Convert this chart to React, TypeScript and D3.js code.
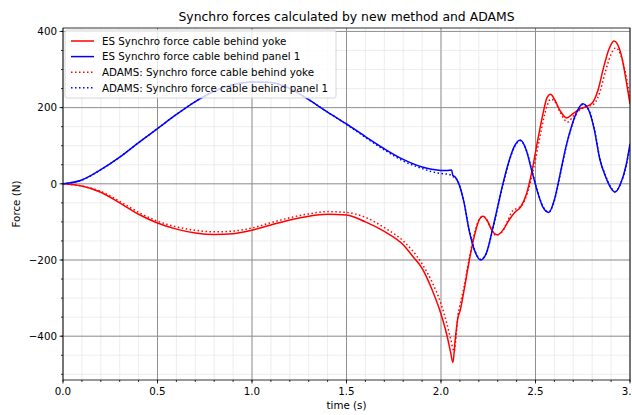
import * as d3 from "d3";

// time (s), force (N)
const esYoke: [number, number][] = [
  [0, 0], [0.1, -6], [0.2, -22], [0.3, -50], [0.4, -80], [0.5, -103], [0.6, -119],
  [0.7, -129], [0.8, -133], [0.9, -131], [1.0, -122], [1.1, -108], [1.2, -95],
  [1.3, -85], [1.4, -80], [1.5, -82], [1.6, -100], [1.7, -125], [1.8, -160],
  [1.85, -190], [1.9, -222], [1.95, -275], [2.0, -342], [2.03, -395], [2.05, -440],
  [2.063, -469], [2.075, -410], [2.09, -350], [2.1, -335], [2.12, -285], [2.15, -200],
  [2.175, -140], [2.2, -97], [2.222, -85], [2.245, -97], [2.27, -123], [2.298, -134],
  [2.33, -120], [2.36, -95], [2.39, -75], [2.42, -62], [2.45, -30], [2.48, 30],
  [2.51, 110], [2.54, 185], [2.56, 225], [2.58, 235], [2.6, 222], [2.63, 192],
  [2.665, 173], [2.7, 185], [2.74, 198], [2.77, 203], [2.8, 212], [2.83, 245],
  [2.86, 305], [2.89, 355], [2.915, 375], [2.94, 360], [2.96, 325], [2.98, 270], [3.0, 210],
];

const esPanel: [number, number][] = [
  [0, 0], [0.1, 10], [0.2, 37], [0.3, 70], [0.4, 108], [0.5, 145], [0.6, 182],
  [0.7, 216], [0.8, 243], [0.9, 260], [1.0, 267], [1.1, 266], [1.2, 250], [1.3, 221],
  [1.4, 188], [1.5, 157], [1.6, 124], [1.7, 92], [1.8, 64], [1.9, 44], [1.95, 38],
  [2.0, 35], [2.03, 35], [2.056, 36], [2.063, 22], [2.075, 18], [2.09, 5], [2.1, -8],
  [2.12, -45], [2.15, -125], [2.18, -178], [2.21, -200], [2.24, -182], [2.27, -125],
  [2.3, -60], [2.33, 5], [2.36, 60], [2.39, 100], [2.42, 115], [2.45, 90], [2.48, 35],
  [2.51, -20], [2.54, -62], [2.57, -75], [2.6, -42], [2.63, 25], [2.66, 95], [2.69, 150],
  [2.72, 190], [2.75, 210], [2.78, 195], [2.81, 145], [2.84, 65], [2.87, 20], [2.9, -12],
  [2.92, -22], [2.95, 0], [2.98, 50], [3.0, 105],
];

const adamsYoke: [number, number][] = [
  [0, 0], [0.1, -6], [0.2, -20], [0.3, -46], [0.4, -75], [0.5, -98], [0.6, -113],
  [0.7, -122], [0.8, -126], [0.9, -124], [1.0, -116], [1.1, -102], [1.2, -89],
  [1.3, -79], [1.4, -73], [1.5, -75], [1.6, -88], [1.7, -115], [1.8, -150], [1.9, -210],
  [1.95, -255], [2.0, -315], [2.03, -365], [2.05, -405], [2.07, -440], [2.08, -400],
  [2.09, -345], [2.1, -320], [2.12, -275], [2.15, -195], [2.18, -125], [2.21, -88],
  [2.23, -87], [2.26, -112], [2.29, -135], [2.32, -128], [2.35, -100], [2.38, -70],
  [2.4, -65], [2.43, -55], [2.46, -20], [2.49, 40], [2.52, 115], [2.55, 185], [2.58, 222],
  [2.6, 218], [2.63, 188], [2.67, 162], [2.7, 178], [2.74, 196], [2.78, 203], [2.81, 210],
  [2.84, 240], [2.87, 295], [2.9, 340], [2.925, 357], [2.95, 340], [2.97, 305], [3.0, 225],
];

const adamsPanel: [number, number][] = [
  [0, 0], [0.1, 10], [0.2, 37], [0.3, 70], [0.4, 108], [0.5, 145], [0.6, 182],
  [0.7, 216], [0.8, 243], [0.9, 260], [1.0, 267], [1.1, 266], [1.2, 250], [1.3, 221],
  [1.4, 188], [1.5, 156], [1.6, 122], [1.7, 89], [1.8, 60], [1.9, 40], [1.95, 32],
  [2.0, 27], [2.04, 25], [2.06, 20], [2.08, 14], [2.1, -8],
  [2.12, -45], [2.15, -122], [2.18, -176], [2.21, -198], [2.24, -182], [2.27, -128],
  [2.3, -62], [2.33, 2], [2.36, 58], [2.39, 98], [2.42, 113], [2.45, 90], [2.48, 37],
  [2.51, -18], [2.54, -60], [2.57, -74], [2.6, -44], [2.63, 22], [2.66, 92], [2.69, 148],
  [2.72, 188], [2.75, 208], [2.78, 196], [2.81, 148], [2.84, 68], [2.87, 22], [2.9, -10],
  [2.92, -20], [2.95, 0], [2.98, 48], [3.0, 100],
];

const xTicks = [0, 0.5, 1.0, 1.5, 2.0, 2.5, 3.0];
const yTicks = [-400, -200, 0, 200, 400];

const series = [
  { name: "ES Synchro force cable behind yoke", data: esYoke, color: "#ff0000", dash: "" },
  { name: "ES Synchro force cable behind panel 1", data: esPanel, color: "#0000ff", dash: "" },
  { name: "ADAMS: Synchro force cable behind yoke", data: adamsYoke, color: "#ff0000", dash: "1.5,2.5" },
  { name: "ADAMS: Synchro force cable behind panel 1", data: adamsPanel, color: "#0000ff", dash: "1.5,2.5" },
];

const W = 632;
const H = 415;
const margin = { top: 28, right: 2, bottom: 35, left: 63 };
const font = "DejaVu Sans, sans-serif";

export default function App() {
  const x = d3.scaleLinear().domain([0, 3.0]).range([margin.left, W - margin.right]);
  const y = d3.scaleLinear().domain([-515, 409]).range([H - margin.bottom, margin.top]);

  const line = d3
    .line<[number, number]>()
    .x((d) => x(d[0]))
    .y((d) => y(d[1]))
    .curve(d3.curveMonotoneX);

  const xMinor = d3.range(0, 31).map((i) => i / 10);
  const yMinor = d3.range(-500, 401, 50);
  const [x0, x1] = x.range();
  const [yb, yt] = y.range();

  const fmtX = d3.format(".1f");
  const fmtY = (v: number) => (v < 0 ? "\u2212" + Math.abs(v) : String(v));

  return (
    <svg
      width={W}
      height={H}
      style={{ position: "absolute", left: 0, top: 0, background: "#fff" }}
      fontFamily={font}
    >
      <defs>
        <clipPath id="plot">
          <rect x={x0} y={yt} width={x1 - x0} height={yb - yt} />
        </clipPath>
      </defs>

      {/* minor grid */}
      <g stroke="#e8e8e8" strokeWidth={0.8}>
        {xMinor.map((t) => (
          <line key={"xm" + t} x1={x(t)} x2={x(t)} y1={yt} y2={yb} />
        ))}
        {yMinor.map((v) => (
          <line key={"ym" + v} x1={x0} x2={x1} y1={y(v)} y2={y(v)} />
        ))}
      </g>
      {/* major grid */}
      <g stroke="#909090" strokeWidth={1}>
        {xTicks.map((t) => (
          <line key={"xg" + t} x1={x(t)} x2={x(t)} y1={yt} y2={yb} />
        ))}
        {yTicks.map((v) => (
          <line key={"yg" + v} x1={x0} x2={x1} y1={y(v)} y2={y(v)} />
        ))}
      </g>

      <g clipPath="url(#plot)" fill="none">
        {series.map((s) => (
          <path
            key={s.name}
            d={line(s.data) ?? ""}
            stroke={s.color}
            strokeWidth={1.5}
            strokeDasharray={s.dash || undefined}
          />
        ))}
      </g>

      {/* spines */}
      <rect x={x0} y={yt} width={x1 - x0} height={yb - yt} fill="none" stroke="#000" strokeWidth={0.8} />

      {/* ticks */}
      <g stroke="#000" strokeWidth={0.8}>
        {xMinor.map((t) => (
          <line key={"xt" + t} x1={x(t)} x2={x(t)} y1={yb} y2={yb + 2} />
        ))}
        {xTicks.map((t) => (
          <line key={"xT" + t} x1={x(t)} x2={x(t)} y1={yb} y2={yb + 3.5} />
        ))}
        {yMinor.map((v) => (
          <line key={"yt" + v} x1={x0} x2={x0 - 2} y1={y(v)} y2={y(v)} />
        ))}
        {yTicks.map((v) => (
          <line key={"yT" + v} x1={x0} x2={x0 - 3.5} y1={y(v)} y2={y(v)} />
        ))}
      </g>
      <g fontSize={10.3} fill="#000">
        {xTicks.map((t) => (
          <text key={"xl" + t} x={x(t)} y={yb + 14.5} textAnchor="middle">
            {fmtX(t)}
          </text>
        ))}
        {yTicks.map((v) => (
          <text key={"yl" + v} x={x0 - 6} y={y(v) + 3.7} textAnchor="end">
            {fmtY(v)}
          </text>
        ))}
        <text x={(x0 + x1) / 2} y={H - 6} textAnchor="middle">
          time (s)
        </text>
        <text transform={`translate(20,${(yt + yb) / 2}) rotate(-90)`} textAnchor="middle">
          Force (N)
        </text>
      </g>
      <text x={(x0 + x1) / 2} y={21} textAnchor="middle" fontSize={12.4}>
        Synchro forces calculated by new method and ADAMS
      </text>

      {/* legend */}
      <g transform={`translate(${x0 + 2},${yt + 2})`}>
        <rect width={271} height={68} rx={2} fill="#fff" fillOpacity={0.8} stroke="#cccccc" strokeWidth={0.8} />
        {series.map((s, i) => (
          <g key={s.name} transform={`translate(0,${11 + i * 15.6})`}>
            <line x1={6} x2={29} y1={0} y2={0} stroke={s.color} strokeWidth={1.5} strokeDasharray={s.dash || undefined} />
            <text x={37} y={3.7} fontSize={10.3}>
              {s.name}
            </text>
          </g>
        ))}
      </g>
    </svg>
  );
}
